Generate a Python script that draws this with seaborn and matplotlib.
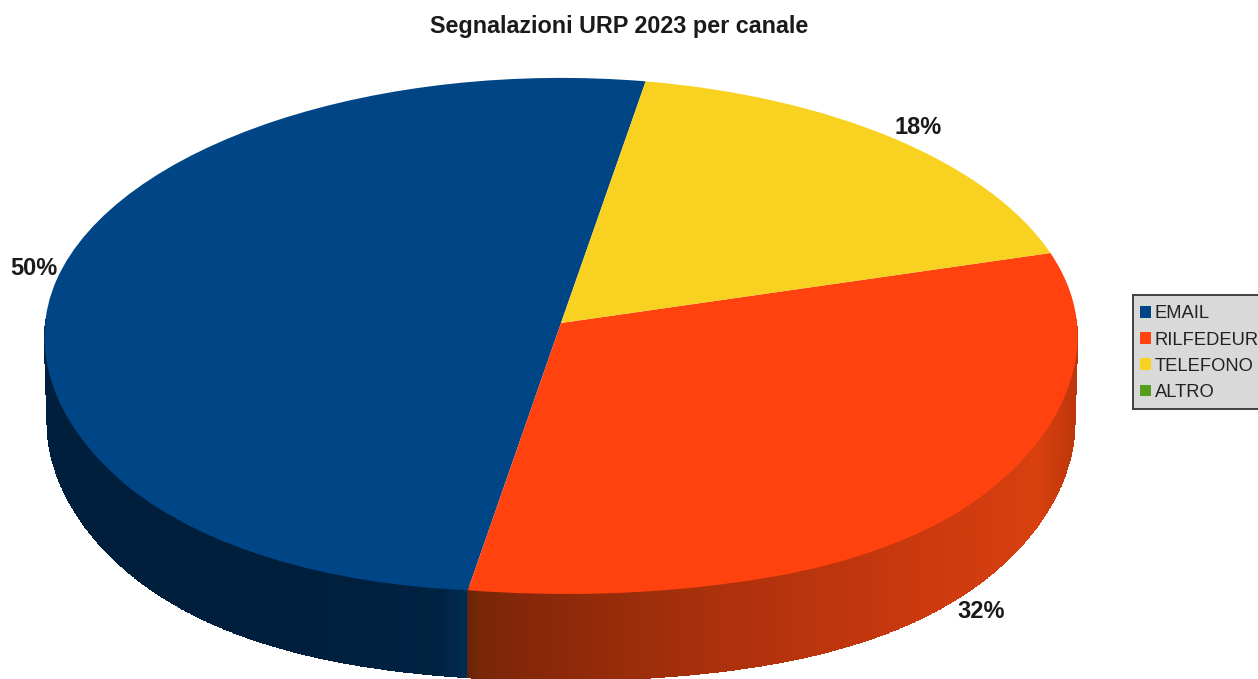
import numpy as np
import matplotlib
matplotlib.use("Agg")
import matplotlib.pyplot as plt
from matplotlib.patches import Rectangle
from matplotlib.transforms import Transform
import seaborn as sns

title = "Segnalazioni URP 2023 per canale"
categories = ["EMAIL", "RILFEDEUR", "TELEFONO", "ALTRO"]
values = [50.0, 32.2, 17.8, 0]
colors = ["#004586", "#ff420e", "#f9d120", "#579d1c"]

W, H = 1258, 679
CX, CY = 561, 323
A, K, C = 516.0, 257.0, 0.0485
BULGE = 12.0
DEPTH = 88

sns.set_theme(style="white")
plt.rcParams["font.family"] = ["Liberation Sans", "DejaVu Sans"]

fig = plt.figure(figsize=(W / 100, H / 100), dpi=100, facecolor="white")
ax = fig.add_axes([0, 0, 1, 1])


class Tilt(Transform):
    """Perspective view of the unit disc, giving image pixel coordinates."""
    input_dims = output_dims = 2
    is_separable = False
    has_inverse = False

    def transform_non_affine(self, xy):
        xy = np.asarray(xy, dtype=float)
        x, y = xy[:, 0], xy[:, 1]
        w = 1 + C * y
        front = BULGE * (2 * x * np.minimum(y, 0)) ** 2
        return np.column_stack([CX + A * x / w, CY - K * y / w + front])


tilt = Tilt()
wedges, _ = ax.pie(values, colors=colors, startangle=80.1, counterclock=True,
                   radius=1, wedgeprops={"linewidth": 0})
for w in wedges:
    w.set_transform(tilt + ax.transData)

# side wall of the disc
t = np.linspace(np.pi, 2 * np.pi, 1400)
rim = tilt.transform(np.column_stack([np.cos(t), np.sin(t)]))
x_top, y_top = rim[:, 0], rim[:, 1] - 4
x_bot = CX + (rim[:, 0] - CX) * 0.994
y_bot = rim[:, 1] + DEPTH
px = 0.5 * (x_top[:-1] + x_top[1:])
anchors = np.array([45, 300, 440, 467, 468, 480, 560, 700, 900, 1040, 1078])
shades = np.array([[0, 31, 60], [0, 31, 60], [0, 34, 66], [0, 44, 84],
                   [104, 36, 8], [122, 38, 8], [140, 41, 10], [168, 48, 12],
                   [200, 56, 14], [216, 64, 15], [190, 54, 12]]) / 255
rgb = np.stack([np.interp(px, anchors, shades[:, i]) for i in range(3)], axis=-1)
ax.pcolormesh(np.vstack([x_top, x_bot]), np.vstack([y_top, y_bot]), rgb[None, :, :],
              shading="flat", zorder=0, antialiased=False, linewidth=0,
              rasterized=True)

ax.set_aspect("auto")
ax.set_xlim(0, W)
ax.set_ylim(H, 0)
ax.set_axis_off()

fig.text(619 / W, 1 - 26 / H, title, ha="center", va="center",
         fontsize=16.8, fontweight="bold", color="#1a1a1a")

label_positions = [(34, 269), (981, 611), (918, 128)]
for v, (lx, ly) in zip(values, label_positions):
    fig.text(lx / W, 1 - ly / H, f"{v:.0f}%", ha="center", va="center",
             fontsize=17, fontweight="bold", color="#1a1a1a")

fig.add_artist(Rectangle((1133 / W, 1 - 409 / H), 140 / W, 114 / H,
                         transform=fig.transFigure, facecolor="#d9d9d9",
                         edgecolor="#333333", linewidth=1.3, zorder=1))
leg = fig.legend(wedges, categories, loc="upper left",
                 bbox_to_anchor=(1140 / W, 1 - 305.5 / H),
                 bbox_transform=fig.transFigure, borderaxespad=0,
                 fontsize=13.2, frameon=False,
                 handlelength=0.62, handleheight=0.62, handletextpad=0.17,
                 labelspacing=0.5, borderpad=0, labelcolor="#222222")
leg.set_zorder(2)

fig.savefig("out.png", dpi=100, facecolor="white")
